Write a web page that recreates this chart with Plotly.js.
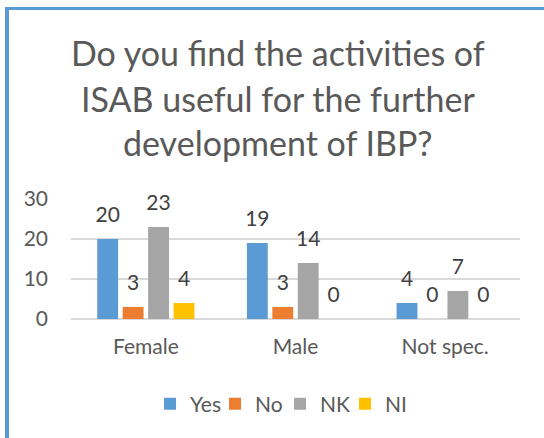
<!DOCTYPE html>
<html>
<head>
<meta charset="utf-8">
<script src="https://cdn.plot.ly/plotly-3.0.1.min.js"></script>
<style>
  html, body { margin: 0; padding: 0; background: #ffffff; overflow: hidden; }
  #chart { width: 544px; height: 438px; position: absolute; left: 0; top: 0; }
  #frame { position: absolute; left: 5px; top: 7px; width: 600px; height: 500px;
           border-top: 3px solid #5B9BD5; border-left: 4px solid #5B9BD5;
           pointer-events: none; z-index: 5; }
</style>
</head>
<body>
<div id="chart"></div>
<div id="frame"></div>
<script>
const titleLines = ["Do you find the activities of", "ISAB useful for the further", "development of IBP?"];
const categories = ["Female", "Male", "Not spec."];
const seriesNames = ["Yes", "No", "NK", "NI"];
const yesValues = [20, 19, 4];
const noValues = [3, 3, 0];
const nkValues = [23, 14, 7];
const niValues = [4, 0, 0];
const seriesColors = ["#5B9BD5", "#ED7D31", "#A5A5A5", "#FFC000"];
const yTicks = [0, 10, 20, 30];

const allValues = [yesValues, noValues, nkValues, niValues];
const labelLift = 2.6; // spacing (in axis units) between bar top and data label

const fontFam = 'Lato, sans-serif';
const traces = [];
allValues.forEach((vals, i) => {
  traces.push({
    type: 'bar', name: seriesNames[i], x: categories, y: vals,
    offsetgroup: 'g' + i,
    marker: { color: seriesColors[i] },
    hoverinfo: 'skip'
  });
});
allValues.forEach((vals, i) => {
  traces.push({
    type: 'bar', name: seriesNames[i] + ' labels', x: categories,
    y: vals.map(() => labelLift), base: vals,
    offsetgroup: 'g' + i, showlegend: false,
    marker: { color: 'rgba(0,0,0,0)' },
    text: vals.map(String), textposition: 'outside', constraintext: 'none',
    cliponaxis: false,
    textfont: { family: fontFam, size: 21, color: '#404040' },
    hoverinfo: 'skip'
  });
});

const titleY = [2.221, 1.8375, 1.467];
const annotations = titleLines.map((t, k) => ({
  text: t, xref: 'paper', yref: 'paper', x: 0.462, y: titleY[k],
  xanchor: 'center', yanchor: 'middle', showarrow: false,
  font: { family: fontFam, size: 34, color: '#595959' }
}));

const layout = {
  width: 544, height: 438,
  margin: { l: 71, r: 24, t: 199, b: 119, pad: 0 },
  paper_bgcolor: '#ffffff', plot_bgcolor: '#ffffff',
  barmode: 'group', bargap: 0.32, bargroupgap: 0.18,
  font: { family: fontFam, size: 21, color: '#595959' },
  showlegend: true,
  legend: {
    orientation: 'h', x: 0.176, xanchor: 'left', y: -0.71, yanchor: 'middle',
    entrywidth: 20, entrywidthmode: 'pixels',
    font: { family: fontFam, size: 21, color: '#595959' },
    traceorder: 'normal', itemclick: false
  },
  xaxis: {
    type: 'category', showgrid: false, showline: false, zeroline: false,
    ticks: '', ticklabelstandoff: 13,
    tickfont: { family: fontFam, size: 21, color: '#595959' }
  },
  yaxis: {
    range: [0, 30], tickvals: yTicks, showgrid: true, gridcolor: '#D9D9D9', gridwidth: 1.5,
    zeroline: true, zerolinecolor: '#D9D9D9', zerolinewidth: 1.5, showline: false,
    ticks: '', ticklabelstandoff: 22,
    tickfont: { family: fontFam, size: 21, color: '#595959' }
  },
  annotations: annotations
};

Plotly.newPlot('chart', traces, layout, { displayModeBar: false, staticPlot: true });
</script>
</body>
</html>
